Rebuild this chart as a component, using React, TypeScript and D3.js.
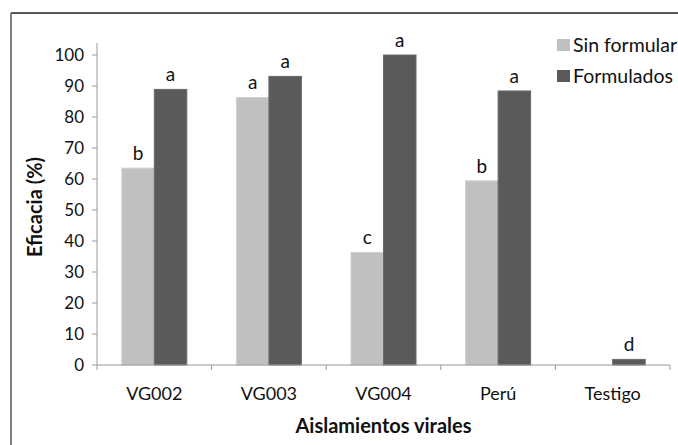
import React from "react";
import * as d3 from "d3";

const categories = ["VG002", "VG003", "VG004", "Perú", "Testigo"];
const seriesNames = ["Sin formular", "Formulados"];
const sinFormular = [63.5, 86.3, 36.3, 59.4, 0];
const formulados = [88.9, 93.1, 100, 88.4, 1.8];
const sinLetters = ["b", "a", "c", "b", ""];
const formLetters = ["a", "a", "a", "a", "d"];
const yTicks = [0, 10, 20, 30, 40, 50, 60, 70, 80, 90, 100];
const colors = ["#c0c0c0", "#5a5a5a"];

export default function App() {
  const W = 678, H = 445;
  const left = 97, right = 670, top = 55, bottom = 365;
  const font = "Lato, 'Open Sans', sans-serif";
  const x0 = d3.scaleBand<string>().domain(categories).range([left, right]).paddingInner(0).paddingOuter(0);
  const x1 = d3.scaleBand<string>().domain(seriesNames).range([0, 65]);
  const y = d3.scaleLinear().domain([0, 100]).range([bottom, top]);
  const data = [sinFormular, formulados];
  const letters = [sinLetters, formLetters];
  return (
    <svg width={W} height={H} style={{ position: "absolute", left: 0, top: 0 }} fontFamily={font}>
      <rect x={0} y={0} width={W} height={H} fill="#fff" />
      <line x1={11} y1={13} x2={W} y2={13} stroke="#222" strokeWidth={1.5} />
      <line x1={11} y1={13} x2={11} y2={H} stroke="#555" strokeWidth={1.5} />
      {/* y axis */}
      <line x1={left} y1={top - 12} x2={left} y2={bottom} stroke="#999" strokeWidth={1} />
      {yTicks.map((t) => (
        <g key={t}>
          <line x1={left - 5} x2={left} y1={y(t)} y2={y(t)} stroke="#999" />
          <text x={left - 13} y={y(t)} dy="0.36em" textAnchor="end" fontSize={17} fill="#111">{t}</text>
        </g>
      ))}
      {/* bars */}
      {categories.map((c, i) => {
        const gx = x0(c)! + x0.bandwidth() / 2 - 32.5;
        return (
          <g key={c}>
            {seriesNames.map((s, j) => {
              const v = data[j][i];
              const bx = gx + x1(s)!;
              return (
                <g key={s}>
                  {v > 0 && (
                    <rect x={bx} y={y(v)} width={x1.bandwidth()} height={bottom - y(v)} fill={colors[j]} stroke={j === 0 ? "#d0d0d0" : "#6a6a6a"} strokeWidth={1} />
                  )}
                  {letters[j][i] && (
                    <text x={bx + x1.bandwidth() / 2} y={y(v) - 15} dy="0.35em" textAnchor="middle" fontSize={19} fill="#111">{letters[j][i]}</text>
                  )}
                </g>
              );
            })}
          </g>
        );
      })}
      {/* x axis */}
      <line x1={left} x2={right} y1={bottom} y2={bottom} stroke="#999" />
      {categories.map((c) => (
        <line key={c} x1={x0(c)!} x2={x0(c)!} y1={bottom} y2={bottom + 5} stroke="#999" />
      ))}
      <line x1={right} x2={right} y1={bottom} y2={bottom + 5} stroke="#999" />
      {categories.map((c) => (
        <text key={c} x={x0(c)! + x0.bandwidth() / 2} y={394} dy="0.36em" textAnchor="middle" fontSize={18} fill="#111">{c}</text>
      ))}
      <text x={(left + right) / 2} y={426} dy="0.36em" textAnchor="middle" fontSize={20} fontWeight="bold" fill="#111">Aislamientos virales</text>
      <text transform={`translate(35,${(top + bottom) / 2 - 3}) rotate(-90)`} dy="0.36em" textAnchor="middle" fontSize={20} fontWeight="bold" fill="#111">Eficacia (%)</text>
      {/* legend */}
      {seriesNames.map((s, j) => (
        <g key={s} transform={`translate(557,${39 + j * 31})`}>
          <rect x={0} y={0} width={13} height={12} fill={colors[j]} />
          <text x={16} y={6} dy="0.36em" fontSize={19.5} fill="#111">{s}</text>
        </g>
      ))}
    </svg>
  );
}
